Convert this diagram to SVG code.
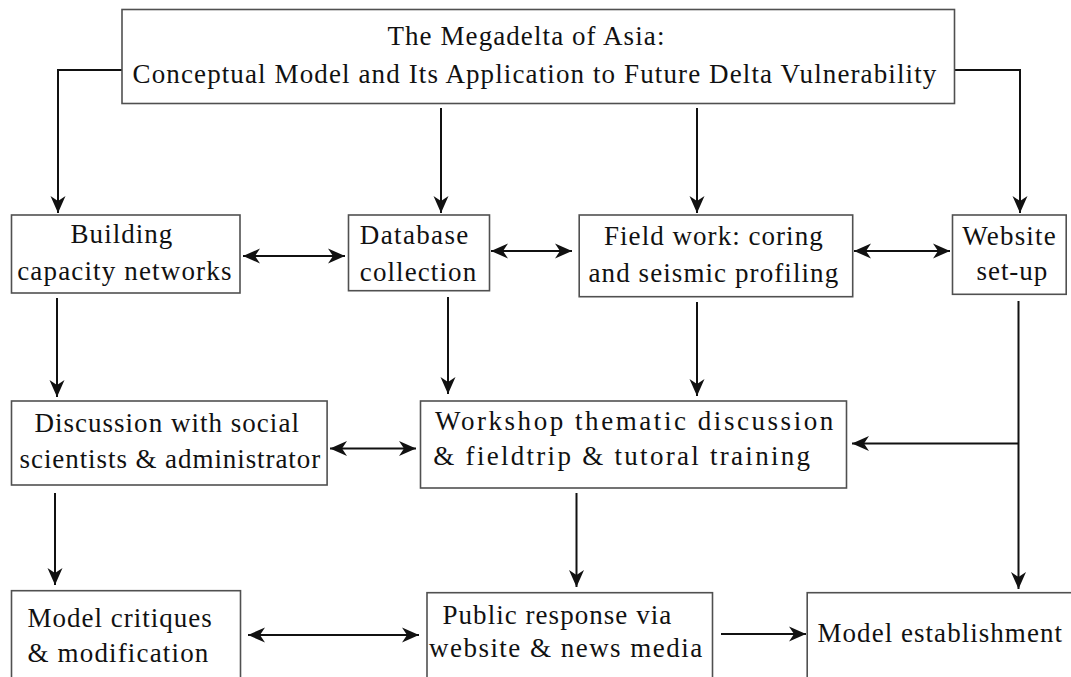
<svg xmlns="http://www.w3.org/2000/svg" width="1071" height="677" viewBox="0 0 1071 677">
<style>
.box{fill:#fff;stroke:#505050;stroke-width:1.6}
.t{font-family:"Liberation Serif","Times New Roman",serif;font-size:27px;fill:#111}
.c{fill:none;stroke:#111;stroke-width:2}
.a{marker-end:url(#ah)}
.b{marker-start:url(#ahs);marker-end:url(#ah)}
</style>
<defs>
<marker id="ah" markerUnits="userSpaceOnUse" markerWidth="19" markerHeight="17" viewBox="-18 -8.5 19 17" refX="0" refY="0" orient="auto">
<path d="M0,0 L-17,-7.5 L-12,0 L-17,7.5 Z" fill="#111"/>
</marker>
<marker id="ahs" markerUnits="userSpaceOnUse" markerWidth="19" markerHeight="17" viewBox="-1 -8.5 19 17" refX="0" refY="0" orient="auto">
<path d="M0,0 L17,-7.5 L12,0 L17,7.5 Z" fill="#111"/>
</marker>
</defs>
<rect width="1071" height="677" fill="#fff"/>

<g id="connectors">
<path class="c a" d="M122,70 H58 V213"/>
<path class="c a" d="M441,108 V213"/>
<path class="c a" d="M697,108 V213"/>
<path class="c a" d="M955,70 H1020 V213"/>
<path class="c b" d="M243,256 H345"/>
<path class="c b" d="M491,251 H572"/>
<path class="c b" d="M854,251 H950"/>
<path class="c a" d="M57,298 V397"/>
<path class="c a" d="M448,297 V394"/>
<path class="c a" d="M697,302 V396"/>
<path class="c a" d="M1018.5,301 V589"/>
<path class="c a" d="M1018.5,443.5 H852"/>
<path class="c b" d="M330,448.5 H416"/>
<path class="c a" d="M55,493 V585"/>
<path class="c a" d="M576.5,493 V587"/>
<path class="c b" d="M248,635 H419"/>
<path class="c a" d="M721,634 H806"/>
</g>

<g id="title">
<rect class="box" x="122" y="9.5" width="832.5" height="94"/>
<text class="t" x="387.4" y="45" textLength="277">The Megadelta of Asia:</text>
<text class="t" x="132.6" y="83.3" textLength="803.7">Conceptual Model and Its Application to Future Delta Vulnerability</text>
</g>

<g id="building">
<rect class="box" x="11.5" y="215" width="228.5" height="78"/>
<text class="t" x="70.6" y="243.3" textLength="101.6">Building</text>
<text class="t" x="17.2" y="280" textLength="214.2">capacity networks</text>
</g>

<g id="database">
<rect class="box" x="348.5" y="215" width="141" height="75.7"/>
<text class="t" x="359.8" y="244.3" textLength="108.5">Database</text>
<text class="t" x="359.8" y="281" textLength="116.4">collection</text>
</g>

<g id="fieldwork">
<rect class="box" x="579.2" y="215" width="273.5" height="81.7"/>
<text class="t" x="604" y="245" textLength="218.7">Field work: coring</text>
<text class="t" x="588.5" y="281.7" textLength="249.7">and seismic profiling</text>
</g>

<g id="website">
<rect class="box" x="952.5" y="215" width="113.7" height="79.3"/>
<text class="t" x="962.2" y="245" textLength="93.6">Website</text>
<text class="t" x="976.6" y="280" textLength="70.6">set-up</text>
</g>

<g id="discussion">
<rect class="box" x="11.5" y="401" width="315.6" height="84"/>
<text class="t" x="34.4" y="431.7" textLength="264.5">Discussion with social</text>
<text class="t" x="19.6" y="468.3" textLength="300.6">scientists &amp; administrator</text>
</g>

<g id="workshop">
<rect class="box" x="420.5" y="401" width="426" height="87"/>
<text class="t" x="435" y="430" textLength="398.3">Workshop thematic discussion</text>
<text class="t" x="433.3" y="465" textLength="376.7">&amp; fieldtrip &amp; tutoral training</text>
</g>

<g id="critiques">
<rect class="box" x="11.5" y="590.7" width="229" height="100"/>
<text class="t" x="27.5" y="626.7" textLength="184.3">Model critiques</text>
<text class="t" x="27.5" y="661.7" textLength="180.8">&amp; modification</text>
</g>

<g id="public">
<rect class="box" x="427" y="592.7" width="285.5" height="100"/>
<text class="t" x="442.5" y="624" textLength="228.7">Public response via</text>
<text class="t" x="429" y="656.7" textLength="273.2">website &amp; news media</text>
</g>

<g id="establishment">
<rect class="box" x="807.2" y="592.7" width="280" height="100"/>
<text class="t" x="817.5" y="641.7" textLength="244.5">Model establishment</text>
</g>
</svg>
